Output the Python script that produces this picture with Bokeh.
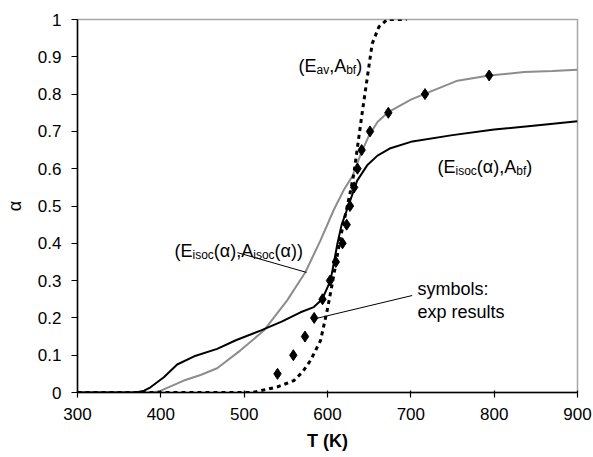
from bokeh.plotting import figure
from bokeh.models import Label, FixedTicker, CustomJSTickFormatter, Range1d
from bokeh.embed import file_html
from bokeh.resources import INLINE

# ---- data ----
# (E_isoc(alpha), A_isoc(alpha)) - grey line
T_isoc_aisoc = [300, 360, 390, 400, 427.6, 447.6, 467.6, 495.6, 523.6, 551.6, 573.6, 591.6,
                607.6, 620, 630, 640, 650, 660, 673, 700, 716, 756, 794, 836, 870, 900]
a_isoc_aisoc = [0, 0, 0, 0.005, 0.032, 0.047, 0.065, 0.113, 0.166, 0.247, 0.323, 0.408,
                0.49, 0.545, 0.58, 0.64, 0.69, 0.725, 0.752, 0.785, 0.80, 0.836, 0.85, 0.859, 0.862, 0.865]

# (E_isoc(alpha), A_bf) - black solid line
T_isoc_abf = [300, 370, 380, 387.6, 403.6, 419.6, 440, 467.6, 490, 519.6, 545, 567.6, 583.6,
              593.6, 603.6, 607, 612, 617, 625, 635.6, 647.6, 660, 675.6, 700, 750, 800, 850, 900]
a_isoc_abf = [0, 0, 0.005, 0.014, 0.041, 0.075, 0.097, 0.117, 0.14, 0.166, 0.19, 0.215, 0.229,
              0.25, 0.30, 0.34, 0.40, 0.45, 0.50, 0.568, 0.609, 0.635, 0.655, 0.672, 0.69, 0.705, 0.716, 0.727]

# (E_av, A_bf) - dotted line
T_av_abf = [300, 510, 520, 540, 559.6, 570, 579.6, 591.6, 599.6, 605.6, 615.6, 627.6, 631.6,
            641, 653.6, 661.6, 671.6, 695]
a_av_abf = [0, 0, 0.005, 0.015, 0.032, 0.055, 0.086, 0.139, 0.22, 0.29, 0.416, 0.54, 0.586,
            0.74, 0.935, 0.98, 1.0, 1.0]

# experimental results - symbols
T_exp = [540, 559, 573, 584, 594, 603, 610, 618, 623, 627, 632, 636, 641, 651, 673, 717, 794]
a_exp = [0.05, 0.10, 0.15, 0.20, 0.25, 0.30, 0.35, 0.40, 0.45, 0.50, 0.55, 0.60, 0.65, 0.70,
         0.75, 0.80, 0.85]

x_ticks = [300, 400, 500, 600, 700, 800, 900]
y_ticks = [0, 0.1, 0.2, 0.3, 0.4, 0.5, 0.6, 0.7, 0.8, 0.9, 1.0]

FONT = "Liberation Sans"

p = figure(width=593, height=457, output_backend="svg", toolbar_location=None,
           x_range=Range1d(300, 900), y_range=Range1d(0, 1),
           min_border_left=77, min_border_right=16, min_border_top=19, min_border_bottom=65)
p.xgrid.visible = False
p.ygrid.visible = False
p.outline_line_color = "#a6a6a6"
p.outline_line_width = 1.5
p.background_fill_color = "white"
p.border_fill_color = "white"

for ax in (p.xaxis[0], p.yaxis[0]):
    ax.axis_line_color = "black"
    ax.axis_line_width = 1.5
    ax.major_tick_line_color = "black"
    ax.major_tick_line_width = 1.2
    ax.minor_tick_line_color = None
    ax.major_label_text_font = FONT
    ax.major_label_text_font_size = "17px"
    ax.major_label_text_color = "black"
    ax.axis_label_text_font = FONT
    ax.axis_label_text_color = "black"

p.xaxis.ticker = FixedTicker(ticks=x_ticks)
p.yaxis.ticker = FixedTicker(ticks=y_ticks)
p.yaxis.formatter = CustomJSTickFormatter(code="return tick.toFixed(1).replace(/\\.0$/, '');")
p.xaxis.major_tick_out = 5
p.xaxis.major_tick_in = 2
p.yaxis.major_tick_out = 6
p.yaxis.major_tick_in = 0
p.xaxis.major_label_standoff = 10
p.yaxis.major_label_standoff = 10
p.xaxis.axis_label = "T (K)"
p.xaxis.axis_label_text_font_style = "bold"
p.xaxis.axis_label_text_font_size = "18px"
p.xaxis.axis_label_standoff = 8
p.yaxis.axis_label = "α"
p.yaxis.axis_label_text_font_style = "normal"
p.yaxis.axis_label_text_font_size = "18px"
p.yaxis.axis_label_standoff = 10

p.line(T_isoc_aisoc, a_isoc_aisoc, line_color="#8c8c8c", line_width=2)
p.line(T_isoc_abf, a_isoc_abf, line_color="black", line_width=2)
p.line(T_av_abf, a_av_abf, line_color="black", line_width=3, line_dash="4 4")
p.scatter(T_exp, a_exp, marker="diamond", size=11, fill_color="black", line_color="black")

# leader lines (annotation positions in data units)
lead_x0 = [492, 701.6]
lead_y0 = [0.375, 0.26]
lead_x1 = [574.8, 585.6]
lead_y1 = [0.322, 0.198]
p.segment(lead_x0, lead_y0, lead_x1, lead_y1, line_color="black", line_width=1)

# ---- rich-text labels built from pieces ----
W = {'(': 333, ')': 333, 'E': 667, 'A': 667, 'a': 556, 'v': 500, ',': 278, 'b': 556,
     'f': 278, 'i': 222, 's': 500, 'o': 556, 'c': 500, 'α': 578, ' ': 278}


def width(txt, size):
    return sum(W.get(ch, 556) for ch in txt) * size / 1000.0


def px_to_data(px, py):
    return 300 + (px - 77) * 600.0 / 500.0, (392 - py) / 373.0


def rich(px, py, pieces, size=18, sub=12):
    x, y = px_to_data(px, py)
    off = 0.0
    for txt, kind in pieces:
        fs = size if kind == "n" else sub
        dy = 0 if kind == "n" else -4
        p.add_layout(Label(x=x, y=y, x_offset=off, y_offset=dy, text=txt,
                           text_font=FONT, text_font_size=f"{fs}px", text_color="black",
                           text_baseline="alphabetic", text_align="left"))
        off += width(txt, fs)


rich(298, 65, [("(E", "n"), ("av", "s"), (",A", "n"), ("bf", "s"), (")", "n")])
rich(437, 166, [("(E", "n"), ("isoc", "s"), ("(α),A", "n"), ("bf", "s"), (")", "n")])
rich(174, 250, [("(E", "n"), ("isoc", "s"), ("(α),A", "n"), ("isoc", "s"), ("(α))", "n")])
rich(417, 288, [("symbols:", "n")])
rich(417, 311.5, [("exp results", "n")])

open("out.html", "w").write(file_html(p, INLINE))
